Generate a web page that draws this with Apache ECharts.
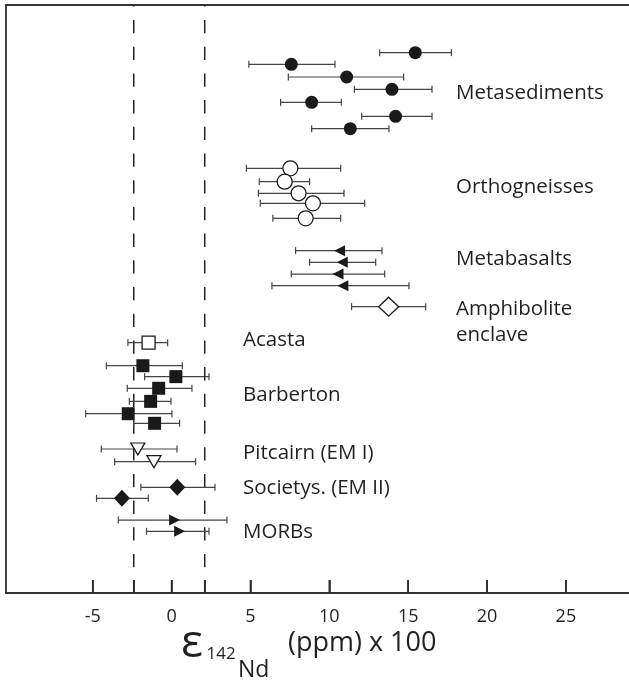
<!DOCTYPE html>
<html>
<head>
<meta charset="utf-8">
<script src="https://cdn.jsdelivr.net/npm/echarts@6/dist/echarts.min.js"></script>
<style>
  html, body { margin: 0; padding: 0; background: #fff; }
  #chart { width: 629px; height: 681px; }
</style>
</head>
<body>
<div id="chart"></div>
<script>
// ---- Data ----
// x: epsilon142Nd (ppm x 100), lo/hi: error bar ends, row: vertical position (row units from top)
const metaX   = [15.45, 7.59, 11.10, 13.97, 8.88, 14.20, 11.33];
const metaLo  = [13.19, 4.90, 7.40, 11.59, 6.91, 12.05, 8.88];
const metaHi  = [17.74, 10.36, 14.71, 16.51, 10.76, 16.51, 13.78];
const metaRow = [3.97, 4.94, 6.00, 7.03, 8.11, 9.28, 10.31];

const orthoX   = [7.53, 7.17, 8.05, 8.96, 8.50];
const orthoLo  = [4.74, 5.56, 5.50, 5.62, 6.42];
const orthoHi  = [10.72, 8.75, 10.93, 12.24, 10.72];
const orthoRow = [13.61, 14.72, 15.69, 16.53, 17.78];

const basaltX   = [10.65, 10.82, 10.55, 10.86];
const basaltLo  = [7.86, 8.75, 7.59, 6.36];
const basaltHi  = [13.34, 12.94, 13.51, 15.05];
const basaltRow = [20.47, 21.44, 22.42, 23.39];

const amphX   = [13.76];
const amphLo  = [11.41];
const amphHi  = [16.11];
const amphRow = [25.14];

const acastaX   = [-1.46];
const acastaLo  = [-2.77];
const acastaHi  = [-0.25];
const acastaRow = [28.14];

const barbX   = [-1.82, 0.27, -0.82, -1.33, -2.75, -1.08];
const barbLo  = [-4.14, -1.71, -2.81, -2.68, -5.45, -2.41];
const barbHi  = [0.68, 2.37, 1.29, -0.04, 0.02, 0.51];
const barbRow = [30.06, 30.97, 31.94, 33.03, 34.06, 34.86];

const pitX   = [-2.14, -1.12];
const pitLo  = [-4.46, -3.61];
const pitHi  = [0.34, 1.52];
const pitRow = [37.00, 38.06];

const socX   = [0.36, -3.15];
const socLo  = [-1.95, -4.76];
const socHi  = [2.75, -1.48];
const socRow = [40.19, 41.11];

const morbX   = [0.19, 0.51];
const morbLo  = [-3.38, -1.59];
const morbHi  = [3.51, 2.37];
const morbRow = [42.92, 43.86];

const refLines   = [-2.4, 2.1];
const tickValues = [-5, -2.4, 0, 2.1, 5, 10, 15, 20, 25];
const tickLabels = [-5, 0, 5, 10, 15, 20, 25];
const groupLabels = ['Metasediments', 'Orthogneisses', 'Metabasalts', 'Amphibolite', 'enclave',
                     'Acasta', 'Barberton', 'Pitcairn (EM I)', 'Societys. (EM II)', 'MORBs'];

const X_MIN = -10.5, X_MAX = 29, ROW_MIN = 0, ROW_MAX = 49;

// ---- build ----
const groups = [
  { x: metaX, lo: metaLo, hi: metaHi, row: metaRow, symbol: 'circle', size: 13, rot: 0, fill: '#1a1a1a' },
  { x: orthoX, lo: orthoLo, hi: orthoHi, row: orthoRow, symbol: 'circle', size: 15, rot: 0, fill: '#fff' },
  { x: basaltX, lo: basaltLo, hi: basaltHi, row: basaltRow, symbol: 'triangle', size: [11, 11], rot: 90, fill: '#1a1a1a' },
  { x: amphX, lo: amphLo, hi: amphHi, row: amphRow, symbol: 'diamond', size: [20, 19], rot: 0, fill: '#fff' },
  { x: acastaX, lo: acastaLo, hi: acastaHi, row: acastaRow, symbol: 'rect', size: 13, rot: 0, fill: '#fff' },
  { x: barbX, lo: barbLo, hi: barbHi, row: barbRow, symbol: 'rect', size: 13, rot: 0, fill: '#1a1a1a' },
  { x: pitX, lo: pitLo, hi: pitHi, row: pitRow, symbol: 'triangle', size: [14, 12], rot: 180, fill: '#fff' },
  { x: socX, lo: socLo, hi: socHi, row: socRow, symbol: 'diamond', size: [16, 17], rot: 0, fill: '#1a1a1a' },
  { x: morbX, lo: morbLo, hi: morbHi, row: morbRow, symbol: 'triangle', size: [11, 11], rot: -90, fill: '#1a1a1a' }
];

const errData = [];
groups.forEach(g => g.x.forEach((v, i) => errData.push([g.lo[i], g.hi[i], g.row[i]])));

const series = [];
// inside tick marks on the bottom axis (thin rect symbols standing on the axis)
series.push({
  type: 'scatter', z: 4, silent: true, clip: false,
  symbol: 'rect', symbolSize: [1.6, 13], symbolOffset: [0, -6.5],
  data: tickValues.map(v => [v, ROW_MAX]),
  itemStyle: { color: '#2b2b2b', opacity: 1 },
  emphasis: { disabled: true }
});
refLines.forEach(v => {
  series.push({
    type: 'line', data: [[v, ROW_MIN], [v, ROW_MAX]], symbol: 'none', silent: true,
    lineStyle: { color: '#222', width: 1.5, type: [13.3, 13.4], dashOffset: 11.7 }, z: 1
  });
});
series.push({
  type: 'custom', z: 2, silent: true,
  data: errData,
  encode: { x: [0, 1], y: 2 },
  renderItem: function (params, api) {
    const y = api.coord([0, api.value(2)])[1];
    const x1 = api.coord([api.value(0), 0])[0];
    const x2 = api.coord([api.value(1), 0])[0];
    const st = { stroke: '#444', lineWidth: 1.2 };
    return {
      type: 'group',
      children: [
        { type: 'line', shape: { x1: x1, y1: y, x2: x2, y2: y }, style: st },
        { type: 'line', shape: { x1: x1, y1: y - 3.5, x2: x1, y2: y + 3.5 }, style: st },
        { type: 'line', shape: { x1: x2, y1: y - 3.5, x2: x2, y2: y + 3.5 }, style: st }
      ]
    };
  }
});
groups.forEach(g => {
  series.push({
    type: 'scatter', z: 3,
    symbol: g.symbol, symbolSize: g.size, symbolRotate: g.rot,
    data: g.x.map((v, i) => [v, g.row[i]]),
    itemStyle: { color: g.fill, borderColor: '#1a1a1a', borderWidth: g.fill === '#fff' ? 1.3 : 0, opacity: 1 },
    emphasis: { disabled: true }
  });
});

const txt = '#231f20';
const FONT = '"Open Sans", "Noto Sans", sans-serif';
function label(text, x, y, size) {
  return { type: 'text', x: x, y: y, silent: true,
    style: { text: text, fill: txt, font: size + 'px ' + FONT, align: 'left', verticalAlign: 'middle' } };
}
const graphics = [
  label(groupLabels[0], 456, 93, 20.5),
  label(groupLabels[1], 456, 187.5, 20.5),
  label(groupLabels[2], 456, 259, 20.5),
  label(groupLabels[3], 456, 309.5, 20.5),
  label(groupLabels[4], 456, 335.5, 20.5),
  label(groupLabels[5], 243, 340, 20.5),
  label(groupLabels[6], 243, 395, 20.5),
  label(groupLabels[7], 243, 452.7, 20.5),
  label(groupLabels[8], 243, 488.3, 20.5),
  label(groupLabels[9], 243, 531.7, 20.5),
  // axis title pieces
  label('ε', 181, 643.8, 46),
  label('142', 206.5, 654, 17),
  label('Nd', 238, 670.5, 23),
  label('(ppm) x 100', 288, 643, 27)
];

const chart = echarts.init(document.getElementById('chart'), null, { renderer: 'canvas' });
chart.setOption({
  animation: false,
  backgroundColor: '#fff',
  grid: { left: 6, right: 0, top: 5, bottom: 88, containLabel: false },
  xAxis: [
    {
      type: 'value', min: X_MIN, max: X_MAX, position: 'bottom',
      splitLine: { show: false },
      axisLine: { show: true, onZero: false, lineStyle: { color: '#333', width: 2 } },
      axisTick: { show: true, inside: true, length: 13, customValues: tickValues, lineStyle: { color: '#2b2b2b', width: 1.6 } },
      axisLabel: { show: true, customValues: tickLabels, margin: 15, color: txt, fontSize: 18, fontFamily: FONT }
    },
    {
      type: 'value', min: X_MIN, max: X_MAX, position: 'top',
      splitLine: { show: false },
      axisLine: { show: true, onZero: false, lineStyle: { color: '#333', width: 2 } },
      axisTick: { show: false }, axisLabel: { show: false }
    }
  ],
  yAxis: {
    type: 'value', min: ROW_MIN, max: ROW_MAX, inverse: true,
    splitLine: { show: false },
    axisLine: { show: true, onZero: false, lineStyle: { color: '#333', width: 1.8 } },
    axisTick: { show: false }, axisLabel: { show: false }
  },
  graphic: graphics,
  series: series
});
</script>
</body>
</html>
